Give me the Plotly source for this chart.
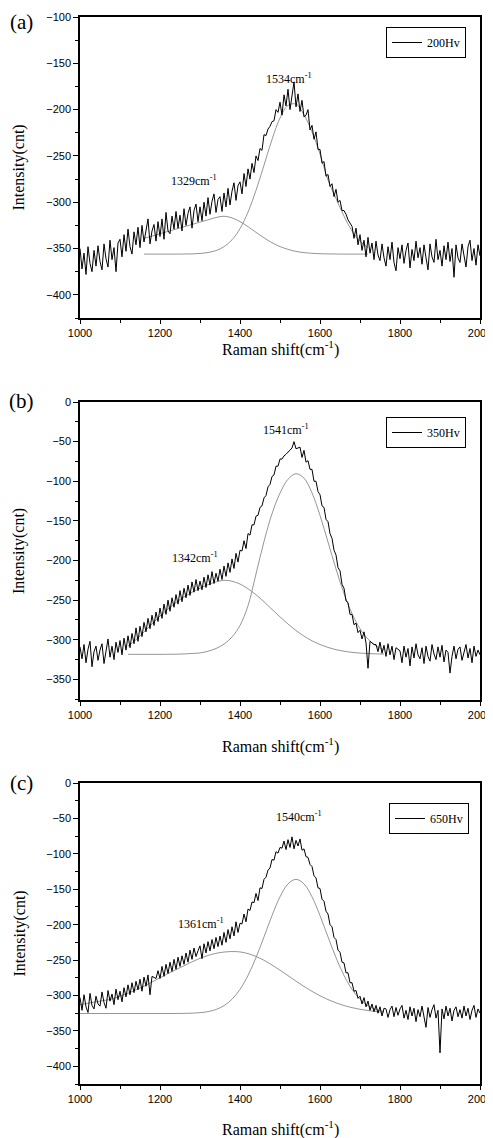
import plotly.graph_objects as go

# ---------------- data ----------------
raman_x = list(range(1000, 2001, 5))

int_200hv = [
    -350, -372, -355, -378, -348, -366, -375, -352, -369, -347,
    -364, -373, -345, -361, -370, -341, -362, -349, -375, -344,
    -340, -359, -335, -353, -329, -348, -356, -332, -346, -327,
    -349, -325, -343, -330, -318, -345, -331, -324, -342, -321,
    -337, -318, -340, -311, -331, -334, -315, -329, -310, -328,
    -314, -331, -307, -325, -312, -305, -328, -309, -302, -321,
    -305, -320, -300, -315, -295, -313, -299, -291, -311, -297,
    -294, -310, -290, -305, -285, -303, -288, -279, -298, -282,
    -278, -291, -269, -283, -264, -275, -258, -268, -250, -255,
    -242, -244, -227, -228, -221, -218, -213, -212, -200, -203,
    -192, -206, -184, -196, -178, -200, -186, -170, -197, -183,
    -202, -190, -208, -206, -200, -222, -217, -232, -224, -243,
    -243, -258, -256, -272, -270, -283, -280, -294, -286, -300,
    -298, -309, -309, -313, -319, -322, -326, -339, -328, -346,
    -335, -352, -341, -359, -338, -355, -344, -362, -342, -357,
    -363, -345, -360, -369, -348, -362, -343, -365, -374, -349,
    -361, -346, -366, -352, -344, -371, -351, -363, -342, -360,
    -349, -367, -346, -360, -373, -345, -359, -365, -340, -362,
    -352, -369, -347, -362, -343, -364, -350, -381, -346, -360,
    -365, -345, -359, -370, -348, -341, -363, -350, -368, -346,
    -358,
]

int_350hv = [
    -309, -324, -306, -329, -312, -302, -334, -315, -308, -326,
    -313, -305, -330, -311, -299, -322, -308, -325, -303, -316,
    -301, -319, -298, -313, -295, -310, -292, -305, -285, -302,
    -283, -296, -278, -290, -273, -286, -269, -282, -265, -277,
    -260, -273, -255, -268, -250, -264, -247, -259, -243, -255,
    -238, -252, -235, -247, -231, -244, -227, -240, -224, -238,
    -226, -237, -221, -234, -218, -231, -214, -229, -216, -226,
    -211, -224, -207, -220, -203, -215, -198, -210, -191, -202,
    -187, -188, -175, -185, -166, -168, -155, -155, -144, -143,
    -133, -131, -121, -118, -107, -104, -94, -92, -81, -81,
    -72, -72, -68, -66, -63, -61, -58, -50, -59, -58,
    -57, -70, -61, -76, -74, -85, -85, -100, -100, -113,
    -117, -131, -133, -148, -151, -166, -172, -187, -193, -209,
    -213, -230, -235, -251, -253, -268, -268, -281, -279, -291,
    -288, -299, -290, -304, -336, -302, -304, -306, -306, -315,
    -303, -317, -307, -321, -305, -319, -308, -325, -310, -312,
    -314, -329, -308, -322, -311, -333, -309, -323, -305, -319,
    -324, -310, -330, -308, -321, -327, -306, -318, -325, -309,
    -322, -307, -328, -313, -316, -342, -321, -308, -324, -312,
    -309, -326, -314, -306, -323, -311, -329, -308, -321, -313,
    -319,
]

int_650hv = [
    -303, -321, -299, -316, -324, -297, -314, -319, -301, -312,
    -315, -295, -310, -318, -293, -308, -298, -313, -291, -306,
    -294, -309, -289, -302, -285, -299, -282, -296, -280, -292,
    -277, -294, -274, -287, -271, -299, -273, -274, -276, -265,
    -276, -259, -273, -256, -269, -253, -266, -249, -263, -246,
    -259, -244, -256, -240, -253, -236, -249, -233, -245, -237,
    -230, -248, -227, -240, -224, -237, -221, -234, -218, -231,
    -216, -229, -211, -225, -207, -220, -203, -216, -196, -211,
    -198, -199, -185, -196, -178, -180, -168, -169, -156, -166,
    -148, -149, -136, -133, -123, -120, -108, -109, -97, -99,
    -91, -92, -82, -94, -80, -91, -76, -93, -81, -89,
    -79, -95, -93, -104, -105, -115, -118, -131, -134, -148,
    -149, -164, -167, -181, -185, -200, -203, -218, -221, -236,
    -239, -253, -254, -268, -268, -282, -282, -294, -293, -304,
    -301, -312, -303, -316, -308, -321, -312, -323, -314, -325,
    -316, -329, -318, -319, -331, -320, -315, -330, -317, -328,
    -319, -314, -332, -321, -334, -316, -329, -318, -337, -320,
    -330, -315, -328, -345, -317, -331, -320, -313, -332, -321,
    -381, -319, -333, -315, -329, -318, -336, -321, -316, -330,
    -320, -332, -315, -329, -318, -334, -321, -314, -331, -319,
    -325,
]

# fitted components (D band and G band)
fit_x_a = list(range(1160, 1721, 20))
fit_d_a = [-339.0, -336.5, -334.0, -331.5, -329.0, -326.5, -324.0, -321.5,
           -319.0, -316.5, -315.1, -316.9, -320.9, -326.4, -332.5, -338.4,
           -343.7, -347.9, -350.9, -353.1, -354.4, -355.2, -355.6, -355.8,
           -355.9, -356.0, -356.0, -356.0, -356.0]
fit_g_a = [-356.0, -356.0, -356.0, -356.0, -356.0, -355.9, -355.8, -355.3,
           -354.3, -352.2, -348.0, -340.6, -328.5, -310.7, -287.2, -260.0,
           -232.3, -209.1, -195.4, -194.1, -205.6, -224.0, -248.0, -276.0,
           -296.0, -315.0, -331.0, -342.0, -349.0]

fit_x_b = list(range(1120, 1761, 20))
fit_d_b = [-308.0, -300.0, -290.0, -280.0, -270.0, -261.0, -253.0, -246.0,
           -240.0, -235.0, -230.5, -227.0, -225.0, -226.1, -229.7, -235.6,
           -243.2, -252.1, -261.6, -271.1, -280.1, -288.3, -295.4, -301.3,
           -306.0, -309.7, -312.5, -314.5, -315.9, -316.8, -317.4, -317.8,
           -318.1]
fit_g_b = [-318.4, -318.4, -318.4, -318.4, -318.4, -318.3, -318.2, -317.9,
           -317.3, -316.6, -314.5, -311.0, -305.5, -296.5, -282.0, -257.0,
           -217.0, -176.0, -141.0, -115.0, -97.5, -90.5, -96.1, -114.7,
           -143.1, -176.7, -210.7, -241.6, -266.9, -286.0, -299.2, -307.7,
           -312.8]

fit_x_c = list(range(1000, 1761, 20))
fit_d_c = [-313.0, -311.0, -309.0, -307.0, -305.0, -301.0, -297.0, -292.0,
           -287.0, -281.0, -275.0, -269.0, -263.5, -258.0, -252.5, -247.5,
           -243.5, -240.5, -238.7, -238.0, -238.5, -240.9, -244.9, -250.3,
           -256.9, -264.3, -272.0, -279.8, -287.3, -294.2, -300.4, -305.8,
           -310.4, -314.2, -317.2, -319.5, -321.3, -322.6, -323.5]
fit_g_c = [-325.5, -325.5, -325.5, -325.5, -325.5, -325.5, -325.5, -325.5,
           -325.5, -325.5, -325.5, -325.5, -325.4, -325.3, -325.0, -324.3,
           -322.8, -319.8, -314.4, -305.3, -291.4, -271.7, -246.5, -217.3,
           -187.2, -160.7, -142.5, -136.0, -142.5, -160.7, -187.2, -217.3,
           -246.5, -271.7, -291.4, -305.3, -314.4, -319.8, -322.8]

series_names = ["200Hv", "350Hv", "650Hv"]
panel_labels = ["(a)", "(b)", "(c)"]
d_peak_labels = ["1329", "1342", "1361"]
g_peak_labels = ["1534", "1541", "1540"]
y_ranges = [(-425, -100), (-376, 0), (-425, 0)]

# ---------------- figure ----------------
W, H = 493, 1138
OFF = 8  # page body margin: the figure is drawn 8px right and down
SERIF = "Liberation Serif"
SANS = "Liberation Sans"


def px_x(px):
    return (px - OFF) / W


def px_y(py):
    return 1 - (py - OFF) / H


panel_px = [(17, 318), (402, 700), (783, 1084)]   # top, bottom screen rows
x_dom = [px_x(80), px_x(480)]

spectra = [int_200hv, int_350hv, int_650hv]
fits = [(fit_x_a, fit_d_a, fit_g_a), (fit_x_b, fit_d_b, fit_g_b),
        (fit_x_c, fit_d_c, fit_g_c)]

fig = go.Figure()
legend_keys = ["legend", "legend2", "legend3"]
for i in range(3):
    xa = "x" if i == 0 else f"x{i+1}"
    ya = "y" if i == 0 else f"y{i+1}"
    fx, fd, fg = fits[i]
    for comp in (fd, fg):
        fig.add_trace(go.Scatter(x=fx, y=comp, mode="lines",
                                 line=dict(color="#8a8a8a", width=0.9, shape="spline"),
                                 xaxis=xa, yaxis=ya, showlegend=False,
                                 hoverinfo="skip"))
    fig.add_trace(go.Scatter(x=raman_x, y=spectra[i], mode="lines",
                             line=dict(color="black", width=1.0),
                             name=series_names[i], xaxis=xa, yaxis=ya,
                             legend=legend_keys[i], showlegend=True))

layout = dict(width=W, height=H, margin=dict(l=0, r=0, t=0, b=0),
              paper_bgcolor="white", plot_bgcolor="white")

legend_pos = [(466, 27), (466, 417), (469, 803)]
for i in range(3):
    top, bot = panel_px[i]
    y_dom = [px_y(bot), px_y(top)]
    xkey = "xaxis" if i == 0 else f"xaxis{i+1}"
    ykey = "yaxis" if i == 0 else f"yaxis{i+1}"
    anchor_x = "y" if i == 0 else f"y{i+1}"
    anchor_y = "x" if i == 0 else f"x{i+1}"
    layout[xkey] = dict(domain=x_dom, anchor=anchor_x, range=[1000, 2000],
                        dtick=200, showline=True,
                        linecolor="black", linewidth=1.5, mirror=True,
                        ticks="outside", ticklen=4, tickwidth=1.2,
                        tickcolor="black",
                        minor=dict(dtick=100, ticks="outside", ticklen=3,
                                   tickcolor="black", tickwidth=1),
                        showgrid=False, zeroline=False, automargin=False,
                        tickfont=dict(family=SANS, size=11, color="black"))
    layout[ykey] = dict(domain=y_dom, anchor=anchor_y, range=list(y_ranges[i]),
                        dtick=50, showline=True, linecolor="black",
                        linewidth=1.5, mirror=True, ticks="outside", ticklen=5,
                        tickwidth=1.2, tickcolor="black",
                        minor=dict(dtick=25, ticks="outside", ticklen=3,
                                   tickcolor="black", tickwidth=1),
                        showgrid=False, zeroline=False, automargin=False,
                        tickfont=dict(family=SANS, size=11, color="black"))
    lx, ly = legend_pos[i]
    layout[legend_keys[i]] = dict(x=px_x(lx), y=px_y(ly), xanchor="right",
                                  yanchor="top", xref="paper", yref="paper",
                                  bgcolor="white", bordercolor="black",
                                  borderwidth=1,
                                  font=dict(family=SERIF, size=12, color="black"),
                                  itemwidth=30, tracegroupgap=0)

fig.update_layout(**layout)

# panel texts
title_y_px = [348, 745, 1128]
label_y_px = [22, 401, 783]
g_lab_pos = [(1523, -166), (1515, -35), (1548, -47)]
d_lab_pos = [(1285, -277), (1288, -196), (1302, -198)]
for i in range(3):
    top, bot = panel_px[i]
    xr = "x" if i == 0 else f"x{i+1}"
    yr = "y" if i == 0 else f"y{i+1}"
    fig.add_annotation(x=px_x(21), y=px_y(label_y_px[i]), xref="paper",
                       yref="paper", text=panel_labels[i], showarrow=False,
                       font=dict(family=SERIF, size=21, color="black"),
                       xanchor="center", yanchor="middle")
    fig.add_annotation(x=px_x(19), y=px_y((top + bot) / 2), xref="paper",
                       yref="paper", text="Intensity(cnt)", textangle=-90,
                       showarrow=False,
                       font=dict(family=SERIF, size=16, color="black"),
                       xanchor="center", yanchor="middle")
    fig.add_annotation(x=px_x(280), y=px_y(title_y_px[i]), xref="paper",
                       yref="paper", text="Raman shift(cm<sup>-1</sup>)",
                       showarrow=False,
                       font=dict(family=SERIF, size=16, color="black"),
                       xanchor="center", yanchor="middle")
    gx, gy = g_lab_pos[i]
    fig.add_annotation(x=gx, y=gy, xref=xr, yref=yr,
                       text=g_peak_labels[i] + "cm<sup>-1</sup>", showarrow=False,
                       font=dict(family=SERIF, size=12, color="black"))
    dx, dy = d_lab_pos[i]
    fig.add_annotation(x=dx, y=dy, xref=xr, yref=yr,
                       text=d_peak_labels[i] + "cm<sup>-1</sup>", showarrow=False,
                       font=dict(family=SERIF, size=12, color="black"))

fig.write_html("out.html")
